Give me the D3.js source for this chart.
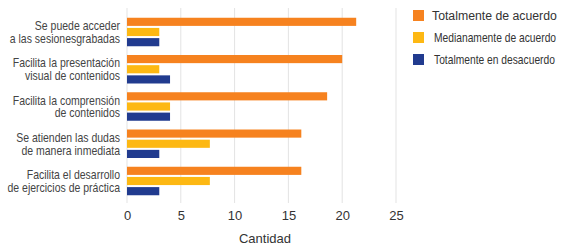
<!DOCTYPE html>
<html>
<head>
<meta charset="utf-8">
<script src="https://cdn.jsdelivr.net/npm/d3@7"></script>
<style>
  body { margin: 0; background: #fff; }
  text { font-family: "Liberation Sans", Arial, sans-serif; }
</style>
</head>
<body>
<svg id="chart" width="566" height="250"></svg>
<script>
// categories, two lines each
var categories = [
    ['Se puede acceder', 'a las sesionesgrabadas'],
    ['Facilita la presentación', 'visual de contenidos'],
    ['Facilita la comprensión', 'de contenidos'],
    ['Se atienden las dudas', 'de manera inmediata'],
    ['Facilita el desarrollo', 'de ejercicios de práctica']
]
var seriesNames = ['Totalmente de acuerdo', 'Medianamente de acuerdo', 'Totalmente en desacuerdo']
var totalmente = [21.3, 20, 18.6, 16.2, 16.2]
var medianamente = [3, 3, 4, 7.7, 7.7]
var desacuerdo = [3, 4, 4, 3, 3]
var xTicks = [0, 5, 10, 15, 20, 25]
var colors = ['#f6821f', '#fdb813', '#213b8f']

var svg = d3.select('#chart')
var margin = { left: 127, top: 10, right: 170, bottom: 47 }
var width = +svg.attr('width')
var height = +svg.attr('height')

var values = [totalmente, medianamente, desacuerdo]
var ids = d3.range(categories.length)

var xscale = d3.scaleLinear()
    .domain([0, 25])
    .range([margin.left, 396])

var yscale = d3.scaleBand()
    .domain(ids)
    .range([margin.top, height - margin.bottom])
    .paddingInner(0.235)
    .paddingOuter(0.208)

var sub = d3.scaleBand()
    .domain(d3.range(3))
    .range([0, yscale.bandwidth()])
    .paddingInner(0.2)

// gridlines
svg.append('g')
    .selectAll('line')
    .data(xTicks)
    .enter()
    .append('line')
    .attr('x1', d => xscale(d))
    .attr('x2', d => xscale(d))
    .attr('y1', 8)
    .attr('y2', height - margin.bottom)
    .attr('stroke', '#e3e3e3')
    .attr('stroke-width', 1)

// x axis labels
var xAxis = svg.append('g')
    .attr('transform', 'translate(0,' + (height - margin.bottom) + ')')
    .call(d3.axisBottom(xscale).tickValues(xTicks).tickSize(0).tickPadding(8))
xAxis.select('.domain').remove()
xAxis.selectAll('text')
    .attr('font-size', 13)
    .attr('fill', '#333')
    .style('font-family', '"Liberation Sans", Arial, sans-serif')

svg.append('text')
    .text('Cantidad')
    .attr('x', 265)
    .attr('y', 243)
    .attr('text-anchor', 'middle')
    .attr('font-size', 13)
    .attr('fill', '#333')

// bars
svg.append('g')
    .selectAll('g')
    .data(values)
    .enter()
    .append('g')
    .attr('fill', (d, i) => colors[i])
    .each(function (series, s) {
        d3.select(this)
            .selectAll('rect')
            .data(series)
            .enter()
            .append('rect')
            .attr('x', xscale(0))
            .attr('y', (d, i) => yscale(i) + sub(s))
            .attr('width', d => xscale(d) - xscale(0))
            .attr('height', sub.bandwidth())
    })

// category labels, one text per line, squeezed (source font is narrow)
var lines = []
categories.forEach(function (c, i) {
    c.forEach(function (t, j) { lines.push({ t: t, i: i, j: j }) })
})
svg.append('g')
    .selectAll('text')
    .data(lines)
    .enter()
    .append('text')
    .attr('transform', d => 'translate(120,' + (yscale(d.i) + yscale.bandwidth() / 2 - 6.3 + d.j * 12.7) + ') scale(0.84,1)')
    .attr('text-anchor', 'end')
    .attr('dy', '0.35em')
    .attr('font-size', 12.5)
    .attr('fill', '#444')
    .text(d => d.t)

// legend
var leg = svg.append('g')
    .selectAll('g')
    .data(seriesNames)
    .enter()
    .append('g')
    .attr('transform', (d, i) => 'translate(413,' + (10 + i * 22) + ')')
leg.append('rect')
    .attr('width', 11)
    .attr('height', 11)
    .attr('fill', (d, i) => colors[i])
leg.append('text')
    .attr('transform', (d, i) => i == 0 ? 'translate(19,5.5) scale(0.91,1)' : 'translate(21,5.5) scale(0.79,1)')
    .attr('dy', '0.35em')
    .attr('font-size', (d, i) => i == 0 ? 13.5 : 13)
    .attr('fill', '#333')
    .text(d => d)
</script>
</body>
</html>
